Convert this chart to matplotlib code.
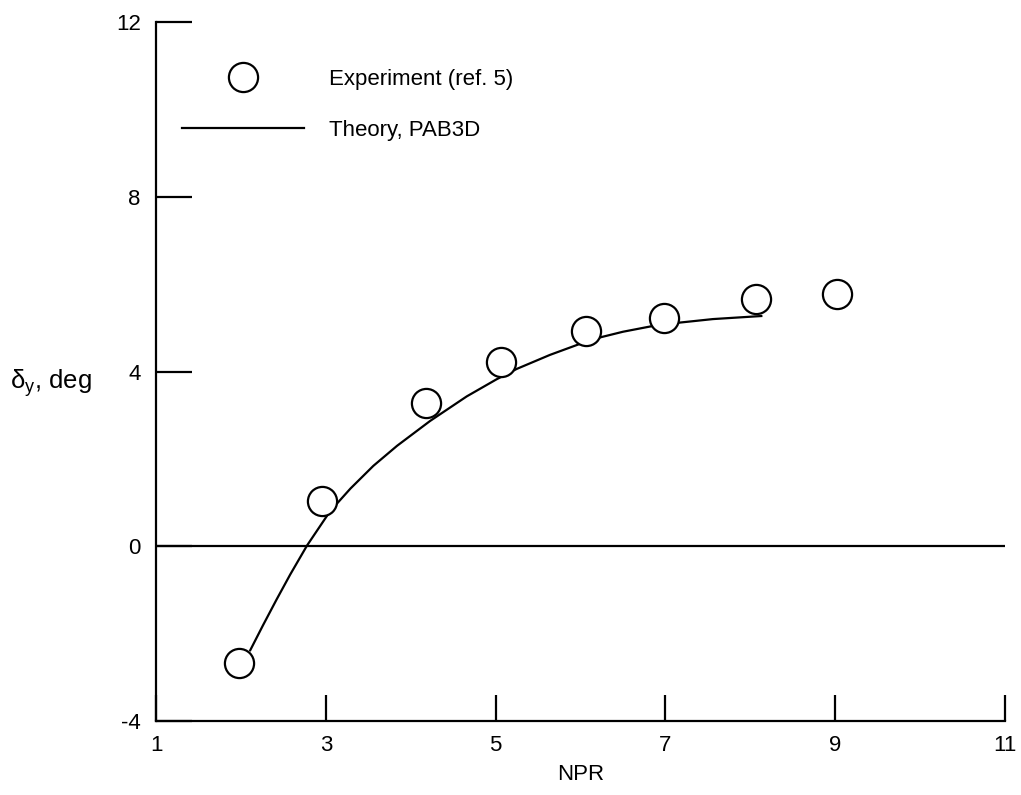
import matplotlib
matplotlib.use("Agg")
import matplotlib.pyplot as plt

plt.rcParams['font.family'] = ['Liberation Sans', 'DejaVu Sans']
plt.rcParams['mathtext.fontset'] = 'custom'
plt.rcParams['mathtext.rm'] = 'Liberation Sans'
plt.rcParams['mathtext.it'] = 'Liberation Sans:italic'
plt.rcParams['axes.unicode_minus'] = False

# Experimental data (ref. 5)
exp_npr = [1.98, 2.95, 4.18, 5.06, 6.06, 6.98, 8.07, 9.02]
exp_delta = [-2.68, 1.04, 3.27, 4.22, 4.93, 5.23, 5.65, 5.78]

# Theory, PAB3D
th_npr = [2.11, 2.26, 2.42, 2.58, 2.78, 3.05, 3.29, 3.56, 3.84, 4.23, 4.66,
          5.01, 5.25, 5.64, 5.99, 6.23, 6.50, 6.82, 7.17, 7.56, 8.13]
th_delta = [-2.38, -1.81, -1.22, -0.65, 0.02, 0.80, 1.32, 1.84, 2.30, 2.87, 3.43,
            3.82, 4.06, 4.38, 4.63, 4.78, 4.91, 5.03, 5.12, 5.20, 5.27]

x_ticks = [1, 3, 5, 7, 9, 11]
y_ticks = [-4, 0, 4, 8, 12]

fig = plt.figure(figsize=(10.21, 7.95), dpi=100)
ax = fig.add_axes([0.1528, 0.0931, 0.8315, 0.8792])

ax.plot(th_npr, th_delta, color='black', lw=1.6, label='Theory, PAB3D', zorder=2,
        solid_joinstyle='round')
ax.plot(exp_npr, exp_delta, linestyle='none', marker='o', markersize=21,
        markerfacecolor='white', markeredgecolor='black', markeredgewidth=1.6,
        label='Experiment (ref. 5)', zorder=3, clip_on=False)
ax.axhline(0, color='black', lw=1.6, zorder=1)

ax.set_xlim(1, 11)
ax.set_ylim(-4, 12)
ax.set_xticks(x_ticks)
ax.set_yticks(y_ticks)
ax.spines['top'].set_visible(False)
ax.spines['right'].set_visible(False)
for s in ['left', 'bottom']:
    ax.spines[s].set_linewidth(1.6)
ax.tick_params(axis='y', direction='in', length=26, width=1.6, pad=11, labelsize=16)
ax.tick_params(axis='x', direction='in', length=19, width=1.6, pad=10, labelsize=16)

ax.set_xlabel('NPR', fontsize=16, labelpad=6)
fig.text(0.01, 1 - 383 / 795, r'$\mathrm{\delta_y}$, deg', fontsize=18.5, va='center', ha='left')

handles, labels = ax.get_legend_handles_labels()
leg = ax.legend(handles[::-1], labels[::-1], loc='upper left',
                bbox_to_anchor=(0.02, 0.946), frameon=False, fontsize=16,
                handlelength=5.5, handletextpad=1.1, labelspacing=1.36,
                borderaxespad=0, numpoints=1)

fig.savefig('out.png', dpi=100)
